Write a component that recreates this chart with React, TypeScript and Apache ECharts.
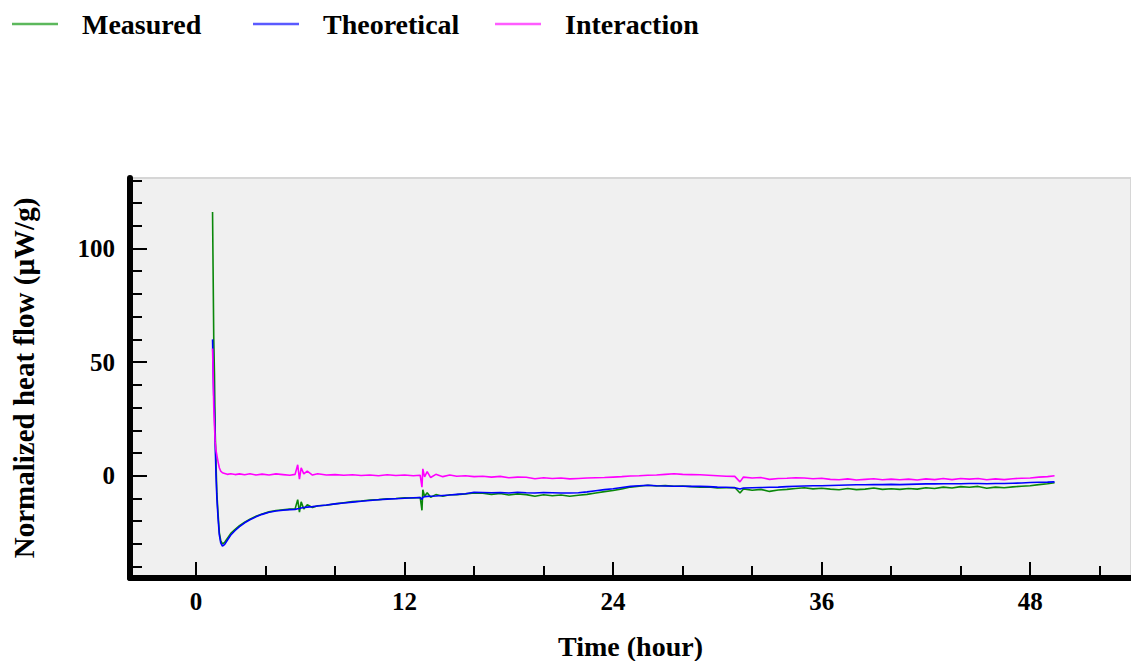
import React, { useEffect, useRef } from 'react';
import * as echarts from 'echarts';

// Time (hour) sample positions
const timeHours = [
  0.95, 0.98, 1.02, 1.06, 1.1, 1.15, 1.2, 1.27, 1.34, 1.42, 1.52,
  1.65, 1.8, 2.0, 2.25, 2.5, 2.8, 3.1, 3.45, 3.8, 4.2, 4.6, 5.0, 5.4, 5.7,
  5.85, 5.95, 6.05, 6.2, 6.4, 6.7, 7.0, 7.5, 8.0, 8.5, 9.0, 9.5, 10.0, 10.5, 11.0, 11.5, 12.0, 12.5, 12.9,
  13.0, 13.05, 13.15, 13.3, 13.5, 13.8, 14.2, 14.6,
  15.0, 15.5, 16.0, 16.5, 17.0, 17.5, 18.0, 18.5, 19.0, 19.5, 20.0, 20.5, 21.0, 21.5, 22.0, 22.5,
  23.0, 23.5, 24.0, 24.5, 25.0, 25.5, 26.0, 26.5, 27.0, 27.5, 28.0, 28.5, 29.0, 29.5, 30.0, 30.5, 31.0,
  31.3, 31.5,
  32.0, 32.5, 33.0, 33.5, 34.0, 34.5, 35.0, 35.5, 36.0, 36.5, 37.0, 37.5, 38.0, 38.5, 39.0, 39.5, 40.0, 40.5,
  41.0, 41.5, 42.0, 42.5, 43.0, 43.5, 44.0, 44.5, 45.0, 45.5, 46.0, 46.5, 47.0, 47.5, 48.0, 48.5, 49.0,
  49.4,
];

const measured = [
  116, 92, 60, 45, 20, 5, -8, -17, -25, -28.5, -30,
  -29.3, -27.6, -25.4, -23.6, -22.0, -20.4, -19.1, -17.8, -16.8, -15.9, -15.3, -15.0, -14.7, -14.6,
  -10.5, -16.0, -11.5, -14.6, -12.8, -14.0, -13.2, -13.0, -12.4, -11.9, -11.4, -11.1, -10.7, -10.5, -10.1, -10.0, -9.7, -9.8, -9.6,
  -15.2, -6.2, -9.0, -7.5, -9.5, -8.3, -9.0, -8.4,
  -8.3, -8.0, -7.6, -7.7, -8.2, -7.8, -8.5, -8.0, -8.3, -9.0, -8.4, -8.8, -8.5, -9.0, -8.6, -8.2,
  -7.6, -7.0, -6.5, -5.8, -5.0, -4.6, -4.2, -4.5, -4.3, -4.6, -4.5, -4.8, -5.0, -4.9, -5.4, -5.3, -5.2,
  -7.6, -5.8,
  -6.4, -6.0, -6.9, -6.3, -6.0, -5.6, -5.3, -5.8, -5.5, -5.9, -6.2, -5.6, -6.1, -5.9, -5.4, -6.0, -5.7, -6.0,
  -5.6, -5.9, -5.3, -5.6, -5.0, -5.4, -4.8, -5.1, -4.7, -5.5, -5.0, -5.3, -4.9, -4.6, -4.4, -3.9, -3.5,
  -3.1,
];

const theoretical = [
  60, 48, 35, 28, 15, 0, -10, -19, -26, -29.5, -31,
  -30.2, -28.4, -26.1, -24.1, -22.4, -20.7, -19.4, -18.1, -17.0, -16.1, -15.5, -15.2, -14.9, -14.8,
  -14.5, -14.4, -14.2, -14.0, -13.8, -13.6, -13.3, -12.9, -12.4, -12.0, -11.6, -11.2, -10.9, -10.6, -10.3, -10.1, -9.9, -9.7, -9.6,
  -10.4, -9.5, -9.2, -9.1, -9.0, -8.9, -8.7, -8.5,
  -8.2, -7.9, -7.3, -7.4, -7.5, -7.4, -7.6, -7.3, -7.5, -7.6, -7.4, -7.5, -7.6, -7.6, -7.5, -7.1,
  -6.6, -6.1, -5.7, -5.2, -4.7, -4.4, -4.2, -4.4, -4.5, -4.6, -4.6, -4.7, -4.7, -4.8, -5.0, -5.1, -5.3,
  -5.8, -5.4,
  -5.3, -5.2, -5.1, -5.0, -4.8, -4.6, -4.5, -4.4, -4.4, -4.3, -4.2, -4.1, -4.0, -4.0, -3.9, -3.9, -3.8, -3.9,
  -3.8, -3.7, -3.6, -3.6, -3.5, -3.5, -3.5, -3.4, -3.4, -3.5, -3.4, -3.4, -3.3, -3.2, -3.0, -2.9, -2.8,
  -2.7,
];

const interaction = [
  56, 46, 30, 22, 15, 11, 9, 6, 3.5, 2, 1.3,
  1.0, 0.6, 0.9, 0.5, 0.8, 0.4, 0.9, 0.3, 0.7, 0.3, 0.8, 0.5, 0.2, 0.6,
  4.8, -1.5, 3.5, 0.8, 2.0, 0.3, 0.9, 0.3, 0.5, 0.2, 0.4, 0.1, 0.3, 0.0, 0.4, 0.1, 0.3, 0.0, 0.2,
  -5.0, 3.0, -0.5, 1.8, -0.8, 0.6, -0.4, 0.3,
  -0.2, 0.0, -0.4, -0.2, -0.6, -0.3, -0.9, -0.6, -0.7, -1.3, -0.9, -1.2, -1.0, -1.4, -1.2, -1.0,
  -0.9, -0.8, -0.6, -0.4, -0.1, 0.0, 0.2, 0.3, 0.6, 0.9, 0.6, 0.5, 0.4, 0.2, 0.0, -0.2, -0.3,
  -2.7, -0.6,
  -1.0, -0.8, -1.6, -1.2, -1.1, -0.9, -1.0, -1.3, -1.1, -1.6, -1.8, -1.4, -1.9, -1.6, -1.3, -1.8, -1.5, -1.8,
  -1.5, -1.9, -1.4, -1.7, -1.2, -1.7, -1.2, -1.5, -1.2, -1.8, -1.4, -1.7, -1.3, -1.1, -1.0, -0.6, -0.4,
  0.0,
];

const seriesNames = ['Measured', 'Theoretical', 'Interaction'];
const seriesColors = ['#0a870a', '#0000ff', '#ff00ff'];
const legendColors = ['#5cb85c', '#5a5aff', '#ff5cff'];
const legendLefts = [12, 253, 495];

const xMajorTicks = [0, 12, 24, 36, 48];
const xMinorTicks = [4, 8, 16, 20, 28, 32, 40, 44, 52];
const yMajorTicks = [0, 50, 100];
const yMinorTicks = [-40, -30, -20, -10, 10, 20, 30, 40, 60, 70, 80, 90, 110, 120, 130];

const X_MIN = -3.8;
const X_MAX = 53.8;
const Y_MIN = -45;
const Y_MAX = 131;

const FONT = "'Liberation Serif', 'Times New Roman', serif";

export default function App() {
  const ref = useRef<HTMLDivElement>(null);

  useEffect(() => {
    if (!ref.current) return;
    const chart = echarts.init(ref.current, null, { renderer: 'svg' });

    const seriesData = [measured, theoretical, interaction];

    const option: any = {
      animation: false,
      backgroundColor: '#ffffff',
      textStyle: { fontFamily: FONT },
      legend: seriesNames.map((name, i) => ({
        data: [name],
        left: legendLefts[i],
        top: 10,
        icon: 'rect',
        itemWidth: 46,
        itemHeight: 2.5,
        padding: 0,
        selectedMode: false,
        itemStyle: { color: legendColors[i], borderWidth: 0 },
        formatter: '{a|{name}}',
        textStyle: {
          fontFamily: FONT,
          fontWeight: 'bold',
          fontSize: 28,
          color: '#000',
          rich: {
            a: {
              fontFamily: FONT,
              fontWeight: 'bold',
              fontSize: 28,
              color: '#000',
              padding: [0, 0, 0, 19],
            },
          },
        },
      })),
      grid: {
        left: 130,
        top: 178,
        right: 0,
        bottom: 83,
        containLabel: false,
        outerBoundsMode: 'none',
        show: true,
        backgroundColor: '#f0f0f0',
        borderColor: '#d6d6d6',
        borderWidth: 2,
      },
      xAxis: [
        {
          type: 'value',
          position: 'bottom',
          min: X_MIN,
          max: X_MAX,
          name: 'Time (hour)',
          nameLocation: 'middle',
          nameGap: 54,
          nameTextStyle: { fontFamily: FONT, fontWeight: 'bold', fontSize: 28, color: '#000' },
          axisLine: { show: true, onZero: false, lineStyle: { color: '#000', width: 6 } },
          axisTick: {
            show: true,
            inside: true,
            length: 16,
            customValues: xMajorTicks,
            lineStyle: { color: '#000', width: 2 },
          },
          axisLabel: {
            show: true,
            customValues: xMajorTicks,
            margin: 11,
            fontFamily: FONT,
            fontWeight: 'bold',
            fontSize: 25,
            color: '#000',
          },
          splitLine: { show: false },
        },
        {
          type: 'value',
          position: 'bottom',
          min: X_MIN,
          max: X_MAX,
          axisLine: { show: false, onZero: false },
          axisTick: {
            show: true,
            inside: true,
            length: 12,
            customValues: xMinorTicks,
            lineStyle: { color: '#000', width: 2 },
          },
          axisLabel: { show: false },
          splitLine: { show: false },
        },
      ],
      yAxis: [
        {
          type: 'value',
          position: 'left',
          min: Y_MIN,
          max: Y_MAX,
          name: 'Normalized heat flow (µW/g)',
          nameLocation: 'middle',
          nameGap: 92,
          nameRotate: 90,
          nameTextStyle: { fontFamily: FONT, fontWeight: 'bold', fontSize: 29, color: '#000' },
          axisLine: { show: true, onZero: false, lineStyle: { color: '#000', width: 6 } },
          axisTick: {
            show: true,
            inside: true,
            length: 17,
            customValues: yMajorTicks,
            lineStyle: { color: '#000', width: 2 },
          },
          axisLabel: {
            show: true,
            customValues: yMajorTicks,
            margin: 15,
            fontFamily: FONT,
            fontWeight: 'bold',
            fontSize: 25,
            color: '#000',
          },
          splitLine: { show: false },
        },
        {
          type: 'value',
          position: 'left',
          min: Y_MIN,
          max: Y_MAX,
          axisLine: { show: false, onZero: false },
          axisTick: {
            show: true,
            inside: true,
            length: 12,
            customValues: yMinorTicks,
            lineStyle: { color: '#000', width: 2 },
          },
          axisLabel: { show: false },
          splitLine: { show: false },
        },
      ],
      series: seriesNames.map((name, i) => ({
        name,
        type: 'line',
        xAxisIndex: 0,
        yAxisIndex: 0,
        symbol: 'none',
        showSymbol: false,
        smooth: false,
        z: 2 + i,
        lineStyle: { color: seriesColors[i], width: 1.6 },
        itemStyle: { color: seriesColors[i] },
        data: timeHours.map((t, k) => [t, seriesData[i][k]]),
      })),
    };

    chart.setOption(option);
    return () => chart.dispose();
  }, []);

  return (
    <div
      ref={ref}
      style={{ position: 'fixed', left: 0, top: 0, width: 1131, height: 661 }}
    />
  );
}
